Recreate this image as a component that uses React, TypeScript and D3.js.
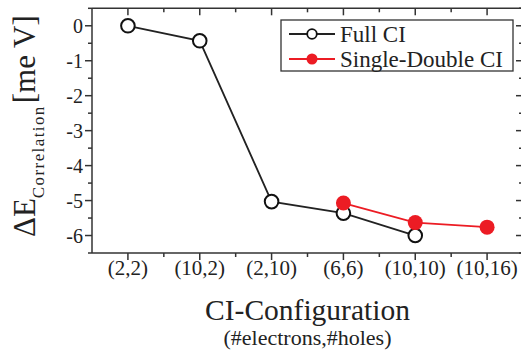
import React from "react";
import * as d3 from "d3";

// CI configurations (#electrons,#holes)
const categories = ["(2,2)", "(10,2)", "(2,10)", "(6,6)", "(10,10)", "(10,16)"];
// Correlation energy in meV
const fullCI = [0, -0.43, -5.03, -5.36, -6.0];
const fullCICats = ["(2,2)", "(10,2)", "(2,10)", "(6,6)", "(10,10)"];
const sdCI = [-5.07, -5.63, -5.76];
const sdCICats = ["(6,6)", "(10,10)", "(10,16)"];
const yTicks = [0, -1, -2, -3, -4, -5, -6];

const W = 521;
const H = 356;
const FONT = '"Liberation Serif", Tinos, "Times New Roman", Times, serif';
const RED = "#ec1c24";

export default function App() {
  const left = 92;
  const right = 523;
  const top = 8.3;
  const bottom = 253;

  const x = d3.scaleLinear().domain([-0.5, categories.length - 0.5]).range([left, right]);
  const y = d3.scaleLinear().domain([-6.5, 0.5]).range([bottom, top]);
  const xi = (c: string) => x(categories.indexOf(c));

  const fullPts: [number, number][] = fullCI.map((v, i) => [xi(fullCICats[i]), y(v)]);
  const sdPts: [number, number][] = sdCI.map((v, i) => [xi(sdCICats[i]), y(v)]);
  const line = d3.line();

  const xMajor = categories.map((_, i) => i);
  const xMinor = d3.range(-0.5, categories.length - 0.4, 1).slice(1, -1);
  const yMinor = d3.range(-6.5, 0.6, 1);

  const legX = 281;
  const legY = 20;

  return (
    <svg
      width={W}
      height={H}
      style={{ position: "fixed", left: 0, top: 0, background: "#fff", fontFamily: FONT }}
    >
      <rect width={W} height={H} fill="#fff" />
      {/* frame */}
      <g stroke="#333" strokeWidth={1.5} fill="none">
        <line x1={left} x2={right} y1={top} y2={top} />
        <line x1={left} x2={right} y1={bottom} y2={bottom} />
        <line x1={left} x2={left} y1={top} y2={bottom} />
        <line x1={right} x2={right} y1={top} y2={bottom} />
      </g>
      {/* y ticks: outward on left, inward on right */}
      <g stroke="#333" strokeWidth={1.5}>
        {yTicks.map((t) => (
          <g key={"ym" + t}>
            <line x1={left - 7} x2={left} y1={y(t)} y2={y(t)} />
            <line x1={right - 7} x2={right} y1={y(t)} y2={y(t)} />
          </g>
        ))}
        {yMinor.map((t) => (
          <g key={"yn" + t}>
            <line x1={left - 4} x2={left} y1={y(t)} y2={y(t)} />
            <line x1={right - 4} x2={right} y1={y(t)} y2={y(t)} />
          </g>
        ))}
        {xMajor.map((t) => (
          <g key={"xm" + t}>
            <line x1={x(t)} x2={x(t)} y1={bottom} y2={bottom + 7} />
            <line x1={x(t)} x2={x(t)} y1={top} y2={top + 7} />
          </g>
        ))}
        {xMinor.map((t) => (
          <g key={"xn" + t}>
            <line x1={x(t)} x2={x(t)} y1={bottom} y2={bottom + 4} />
            <line x1={x(t)} x2={x(t)} y1={top} y2={top + 4} />
          </g>
        ))}
      </g>
      {/* tick labels */}
      <g fontSize={20} fill="#222" textAnchor="end" style={{ fontFamily: FONT }}>
        {yTicks.map((t) => (
          <text key={"yl" + t} x={83} y={y(t) + 7}>
            {t}
          </text>
        ))}
      </g>
      <g fontSize={21} fill="#222" textAnchor="middle" style={{ fontFamily: FONT }}>
        {categories.map((c, i) => (
          <text key={c} x={x(i)} y={275}>
            {c}
          </text>
        ))}
      </g>
      {/* axis titles */}
      <text x={(left + right) / 2} y={320} fontSize={29.5} textAnchor="middle" fill="#222" style={{ fontFamily: FONT }}>
        CI-Configuration
      </text>
      <text x={(left + right) / 2} y={345} fontSize={22} textAnchor="middle" fill="#222" style={{ fontFamily: FONT }}>
        (#electrons,#holes)
      </text>
      <text transform="translate(35,237) rotate(-90)" fill="#222" fontSize={31} style={{ fontFamily: FONT }}>
        <tspan>ΔE</tspan>
        <tspan fontSize={17} dy={9} letterSpacing={1.4}>
          Correlation
        </tspan>
        <tspan dy={-9} dx={2}>
          [me V]
        </tspan>
      </text>
      {/* series */}
      <path d={line(fullPts) || ""} fill="none" stroke="#222" strokeWidth={1.8} />
      <path d={line(sdPts) || ""} fill="none" stroke={RED} strokeWidth={1.8} />
      {fullPts.map(([px, py], i) => (
        <circle key={"f" + i} cx={px} cy={py} r={6.8} fill="#fff" stroke="#111" strokeWidth={2} />
      ))}
      {sdPts.map(([px, py], i) => (
        <circle key={"s" + i} cx={px} cy={py} r={7.5} fill={RED} />
      ))}
      {/* legend */}
      <rect x={legX} y={legY} width={232} height={51} fill="#fff" stroke="#333" strokeWidth={1.3} />
      <line x1={289} x2={335} y1={34} y2={34} stroke="#222" strokeWidth={1.8} />
      <circle cx={312} cy={34} r={4.8} fill="#fff" stroke="#111" strokeWidth={1.8} />
      <text x={340} y={42} fontSize={23} fill="#222" style={{ fontFamily: FONT }}>
        Full CI
      </text>
      <line x1={289} x2={335} y1={59} y2={59} stroke={RED} strokeWidth={1.8} />
      <circle cx={312} cy={59} r={5.5} fill={RED} />
      <text x={340} y={67} fontSize={23} fill="#222" style={{ fontFamily: FONT }}>
        Single-Double CI
      </text>
    </svg>
  );
}
